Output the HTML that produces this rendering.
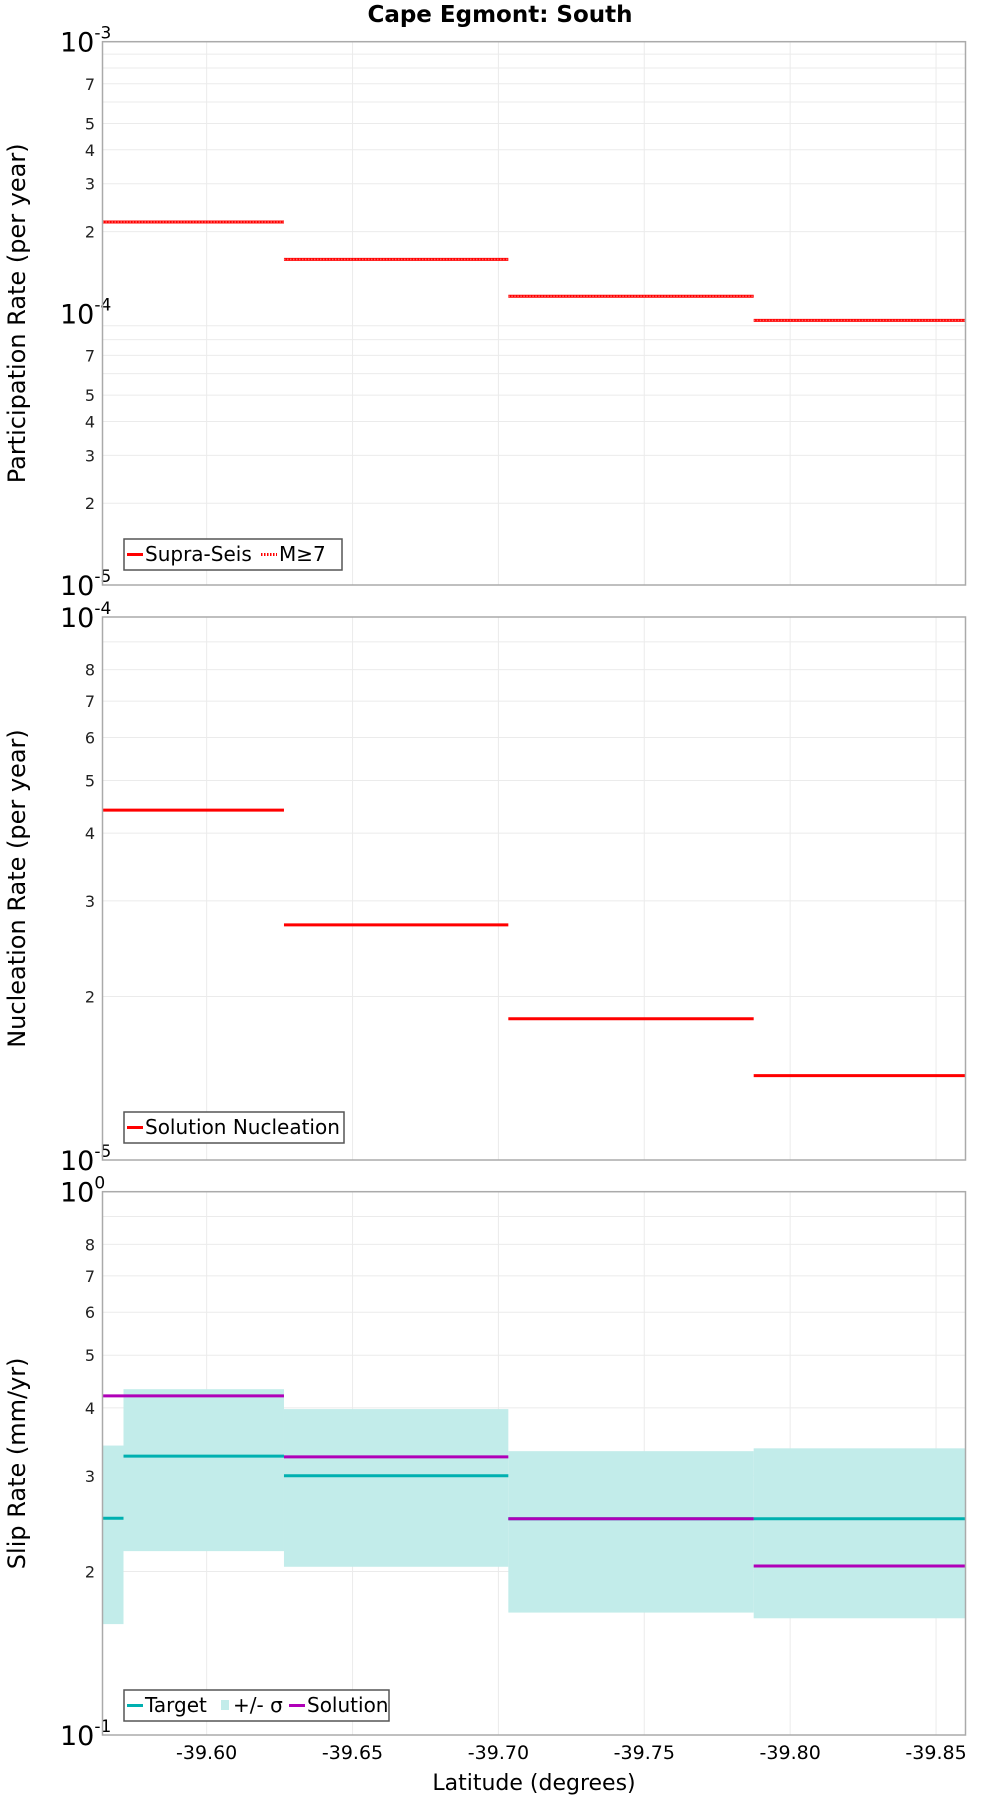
<!DOCTYPE html>
<html><head><meta charset="utf-8"><style>
body{margin:0;background:#fff}
svg{display:block;font-family:"DejaVu Sans","Liberation Sans",sans-serif}
</style></head><body>
<svg id="chart" width="1000" height="1800" viewBox="0 0 1000 1800" xmlns="http://www.w3.org/2000/svg">
<text x="500" y="22" text-anchor="middle" font-size="23" font-weight="bold">Cape Egmont: South</text>
<g id="g"></g>
</svg>
<script>
const segEdges = [-39.5643, -39.6265, -39.7034, -39.7875, -39.8601];
const slipEdges = [-39.5643, -39.5715, -39.6265, -39.7034, -39.7875, -39.8601];
const supraSeis = [2.17e-4, 1.58e-4, 1.156e-4, 9.42e-5];
const m7 = [2.17e-4, 1.58e-4, 1.156e-4, 9.42e-5];
const nucleation = [4.41e-5, 2.71e-5, 1.82e-5, 1.43e-5];
const target = [0.2506, 0.326, 0.300, 0.25, 0.25];
const solution = [0.421, 0.421, 0.325, 0.25, 0.2047];
const sigmaHi = [0.341, 0.433, 0.398, 0.333, 0.337];
const sigmaLo = [0.160, 0.218, 0.204, 0.168, 0.164];
const xTicks = [-39.60, -39.65, -39.70, -39.75, -39.80, -39.85];
const xTickLabels = ["-39.60", "-39.65", "-39.70", "-39.75", "-39.80", "-39.85"];

const NS = "http://www.w3.org/2000/svg";
const G = document.getElementById('g');
const L = 102.5, R = 965.5, XMIN = -39.5643, XMAX = -39.8601;
function xs(v){ return L + (v - XMIN) / (XMAX - XMIN) * (R - L); }
function mk(tag, attrs, parent){
  const e = document.createElementNS(NS, tag);
  for (const k in attrs) e.setAttribute(k, attrs[k]);
  (parent || G).appendChild(e); return e;
}
const panels = [
  {name:'participation', top:41.7, bot:585, lo:-5, hi:-3, title:'Participation Rate (per year)'},
  {name:'nucleation', top:617, bot:1160, lo:-5, hi:-4, title:'Nucleation Rate (per year)'},
  {name:'slip', top:1191.7, bot:1735, lo:-1, hi:0, title:'Slip Rate (mm/yr)'}
];
function ysF(p){ return v => p.bot - (Math.log10(v) - p.lo) / (p.hi - p.lo) * (p.bot - p.top); }

panels.forEach(p => {
  const ys = ysF(p);
  const grp = mk('g', {});
  
  
  for (let d = p.lo; d < p.hi; d++) {
    for (let m = 2; m <= 9; m++) {
      const y = ys(m * Math.pow(10, d));
      const gl = mk('line', {x1:L, x2:R, y1:y, y2:y, stroke:'#ebebeb', 'stroke-width':1}, grp);
      
      
      if (!(p.hi - p.lo === 2 && (m === 6 || m === 8 || m === 9)) && !(p.hi - p.lo === 1 && m === 9)) {
        const t = mk('text', {x:95, y:y + 6, 'text-anchor':'end', 'font-size':16, fill:'#222'}, grp);
        t.textContent = m;
        
        
      }
    }
  }
  xTicks.forEach(v => {
    const gl = mk('line', {x1:xs(v), x2:xs(v), y1:p.top, y2:p.bot, stroke:'#ebebeb', 'stroke-width':1}, grp);
    
    
  });
  for (let d = p.lo; d <= p.hi; d++) {
    const y = ys(Math.pow(10, d));
    const t = mk('text', {x:60, y:y + 10, 'font-size':27}, grp);
    t.textContent = '10';
    const s = mk('tspan', {dy:-13, 'font-size':17}, t);
    s.textContent = String(d);
    
    
  }
  const yt = mk('text', {x:0, y:0, 'font-size':24, 'text-anchor':'middle', transform:'translate(25,' + ((p.top + p.bot) / 2) + ') rotate(-90)'}, grp);
  yt.textContent = p.title;
  
  
  p.grp = grp; p.ys = ys;
});

(function(){
  const p = panels[0], ys = p.ys;
  supraSeis.forEach((v, i) => {
    const l = mk('line', {x1:xs(segEdges[i]), x2:xs(segEdges[i+1]), y1:ys(v), y2:ys(v), stroke:'#ff0000', 'stroke-width':3}, p.grp);
    
    
  });
  m7.forEach((v, i) => {
    const l = mk('line', {x1:xs(segEdges[i]), x2:xs(segEdges[i+1]), y1:ys(v), y2:ys(v), stroke:'#ff6060', 'stroke-width':1.5, 'stroke-dasharray':'1.5 1.5'}, p.grp);
    
    
  });
})();
(function(){
  const p = panels[1], ys = p.ys;
  nucleation.forEach((v, i) => {
    const l = mk('line', {x1:xs(segEdges[i]), x2:xs(segEdges[i+1]), y1:ys(v), y2:ys(v), stroke:'#ff0000', 'stroke-width':3}, p.grp);
    
    
  });
})();
(function(){
  const p = panels[2], ys = p.ys;
  sigmaHi.forEach((v, i) => {
    const x1 = xs(slipEdges[i]), x2 = xs(slipEdges[i+1]);
    const r = mk('rect', {x:x1, y:ys(v), width:x2 - x1, height:ys(sigmaLo[i]) - ys(v), fill:'#c2ecea'}, p.grp);
    
    
  });
  target.forEach((v, i) => {
    const l = mk('line', {x1:xs(slipEdges[i]), x2:xs(slipEdges[i+1]), y1:ys(v), y2:ys(v), stroke:'#00b0b0', 'stroke-width':3}, p.grp);
    
    
  });
  solution.forEach((v, i) => {
    const l = mk('line', {x1:xs(slipEdges[i]), x2:xs(slipEdges[i+1]), y1:ys(v), y2:ys(v), stroke:'#b000b8', 'stroke-width':3}, p.grp);
    
    
  });
})();

panels.forEach(p => {
  const f = mk('rect', {x:L, y:p.top, width:R - L, height:p.bot - p.top, fill:'none', stroke:'#aaaaaa', 'stroke-width':1.5}, p.grp);
  
  
});

xTicks.forEach((v, i) => {
  const t = mk('text', {x:xs(v), y:1759, 'text-anchor':'middle', 'font-size':19});
  t.textContent = xTickLabels[i];
  
  
});
const xt = mk('text', {x:534, y:1790, 'text-anchor':'middle', 'font-size':22});
xt.textContent = 'Latitude (degrees)';



function legend(name, x, y, w, items){
  const g = mk('g', {});
  
  
  mk('rect', {x:x, y:y, width:w, height:31, fill:'#fff', stroke:'#555', 'stroke-width':1.5}, g);
  let cx = x + 3;
  items.forEach(it => {
    if (it.type === 'box') mk('rect', {x:cx + 2, y:y + 10, width:8, height:10, fill:it.color}, g);
    else mk('line', {x1:cx, x2:cx + 16, y1:y + 15.5, y2:y + 15.5, stroke:it.color, 'stroke-width':3, 'stroke-dasharray':it.dash || 'none'}, g);
    const t = mk('text', {x:cx + (it.type === 'box' ? 14 : 18), y:y + 22, 'font-size':20}, g);
    t.textContent = it.label;
    
    
    cx += it.w;
  });
}
legend('participation-legend', 124, 539, 218, [{color:'#ff0000', label:'Supra-Seis', w:134}, {color:'#ff0000', label:'M≥7', w:80, dash:'1.5 1.5'}]);
legend('nucleation-legend', 124, 1112, 220, [{color:'#ff0000', label:'Solution Nucleation', w:210}]);
legend('slip-legend', 124, 1690, 265, [{color:'#00b0b0', label:'Target', w:92}, {color:'#c2ecea', label:'+/- σ', type:'box', w:70}, {color:'#b000b8', label:'Solution', w:100}]);
</script>
</body></html>
